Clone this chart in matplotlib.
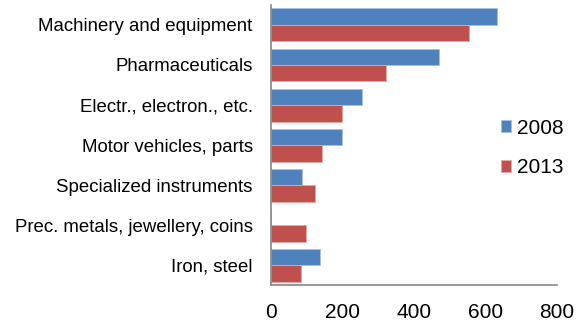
import numpy as np
import matplotlib.pyplot as plt

plt.rcParams['font.family'] = ['Liberation Sans', 'DejaVu Sans']

# Export values by product group
categories = ["Machinery and equipment", "Pharmaceuticals", "Electr., electron., etc.",
              "Motor vehicles, parts", "Specialized instruments",
              "Prec. metals, jewellery, coins", "Iron, steel"]
values_2008 = [632, 470, 256, 199, 88, 0, 139]
values_2013 = [555, 322, 199, 144, 125, 98, 86]

fig = plt.figure(figsize=(5.84, 3.24), dpi=100)
ax = fig.add_axes([0.4635, 0.119, 0.4895, 0.866])

y = np.arange(len(categories))
h = 0.41
ax.barh(y - h / 2, values_2008, height=h, color='#4F81BD', edgecolor='#A7C0DE',
        linewidth=0.6, label='2008')
ax.barh(y + h / 2, values_2013, height=h, color='#C0504D', edgecolor='#E0A8A6',
        linewidth=0.6, label='2013')

ax.set_ylim(len(categories) - 0.5, -0.5)
ax.set_xlim(0, 800)
ax.set_xticks([0, 200, 400, 600, 800])
ax.set_yticks(y)
ax.set_yticklabels(categories)

for s in ['top', 'right']:
    ax.spines[s].set_visible(False)
for s in ['left', 'bottom']:
    ax.spines[s].set_color('#868686')
    ax.spines[s].set_linewidth(1.2)

ax.tick_params(axis='y', length=0, pad=13, labelsize=13.4, colors='black')
ax.tick_params(axis='x', length=0, pad=13, labelsize=15, colors='black')

ax.legend(loc='center left', bbox_to_anchor=(0.805, 0.49), frameon=False,
          fontsize=15, handlelength=0.5, handleheight=0.5,
          handletextpad=0.3, labelspacing=1.0, borderaxespad=0, borderpad=0)

fig.savefig('out.png', dpi=100)
